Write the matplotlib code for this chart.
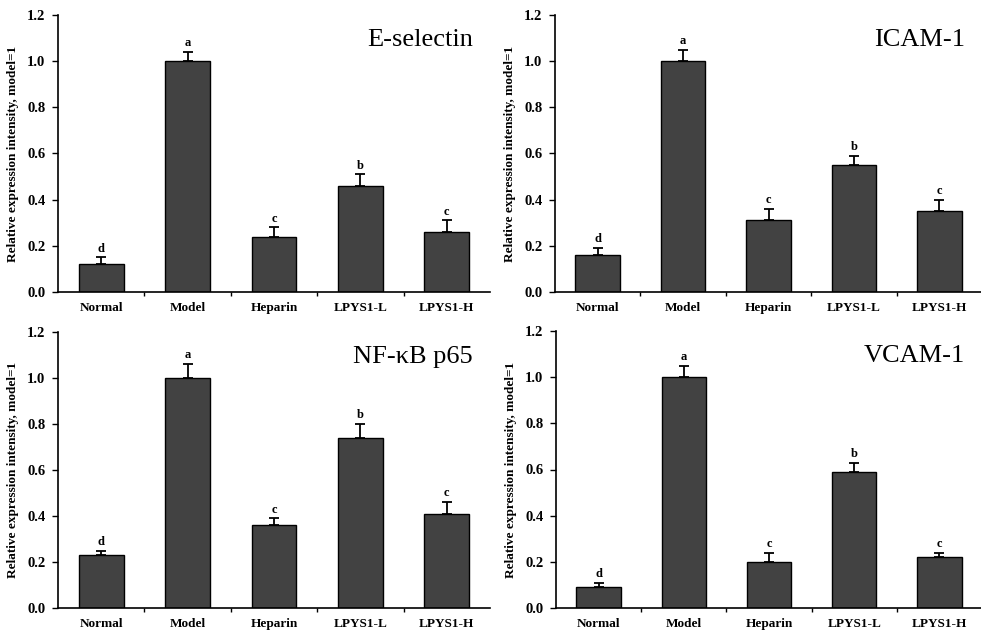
import matplotlib
matplotlib.use("Agg")
import matplotlib.pyplot as plt
import numpy as np

plt.rcParams['font.family'] = ['Liberation Serif', 'DejaVu Serif']

groups = ["Normal", "Model", "Heparin", "LPYS1-L", "LPYS1-H"]

# mean values (model = 1) and upper error of each marker
esel_mean = [0.12, 1.00, 0.24, 0.46, 0.26]
esel_err = [0.03, 0.04, 0.04, 0.05, 0.05]
esel_sig = ["d", "a", "c", "b", "c"]

icam_mean = [0.16, 1.00, 0.31, 0.55, 0.35]
icam_err = [0.03, 0.05, 0.05, 0.04, 0.05]
icam_sig = ["d", "a", "c", "b", "c"]

nfkb_mean = [0.23, 1.00, 0.36, 0.74, 0.41]
nfkb_err = [0.02, 0.06, 0.03, 0.06, 0.05]
nfkb_sig = ["d", "a", "c", "b", "c"]

vcam_mean = [0.09, 1.00, 0.20, 0.59, 0.22]
vcam_err = [0.02, 0.05, 0.04, 0.04, 0.02]
vcam_sig = ["d", "a", "c", "b", "c"]

W, H = 981, 631
fig = plt.figure(figsize=(W / 100, H / 100), dpi=100)


def px_axes(x0, y_top, x1, y_bot):
    # axes box given in pixel coordinates (origin top-left)
    return fig.add_axes([x0 / W, 1 - y_bot / H, (x1 - x0) / W, (y_bot - y_top) / H])


def panel(ax, mean, err, sig, name):
    x = np.arange(len(groups))
    ax.bar(x, mean, width=0.52, color="#424242", edgecolor="black", linewidth=1.0, zorder=2)
    ax.errorbar(x, mean, yerr=[np.zeros(len(mean)), err], fmt="none", ecolor="black",
                elinewidth=1.3, capsize=3.5, capthick=1.3, zorder=3)
    for xi, m, e, s in zip(x, mean, err, sig):
        ax.text(xi, m + e + 0.012, s, ha="center", va="bottom", fontsize=9, fontweight="bold")
    ax.set_xlim(-0.5, len(groups) - 0.5)
    ax.set_ylim(0, 1.2)
    ax.set_yticks(np.arange(0, 1.21, 0.2))
    ax.set_yticklabels(["%.1f" % v for v in np.arange(0, 1.21, 0.2)], fontsize=10.5, fontweight="bold")
    ax.set_xticks(x)
    ax.set_xticklabels(groups, fontsize=9.5, fontweight="bold")
    ax.tick_params(axis="x", length=0, pad=7)
    ax.set_xticks(np.arange(0.5, len(groups) - 1, 1.0), minor=True)
    ax.tick_params(axis="x", which="minor", length=3, width=1.0, direction="out")
    ax.tick_params(axis="y", length=4, width=1.0, direction="out", pad=5)
    for side in ["top", "right"]:
        ax.spines[side].set_visible(False)
    for side in ["left", "bottom"]:
        ax.spines[side].set_linewidth(1.2)
    ax.set_ylabel("Relative expression intensity, model=1", fontsize=9.5, fontweight="bold", labelpad=6)
    ax.text(0.96, 0.91, name, transform=ax.transAxes, ha="right", va="center", fontsize=19)


ax1 = px_axes(58, 15, 490, 292)
ax2 = px_axes(555, 15, 982, 292)
ax3 = px_axes(58, 332, 490, 608)
ax4 = px_axes(556, 331, 982, 608)

panel(ax1, esel_mean, esel_err, esel_sig, "E-selectin")
panel(ax2, icam_mean, icam_err, icam_sig, "ICAM-1")
panel(ax3, nfkb_mean, nfkb_err, nfkb_sig, "NF-κB p65")
panel(ax4, vcam_mean, vcam_err, vcam_sig, "VCAM-1")

fig.savefig("out.png", dpi=100)
